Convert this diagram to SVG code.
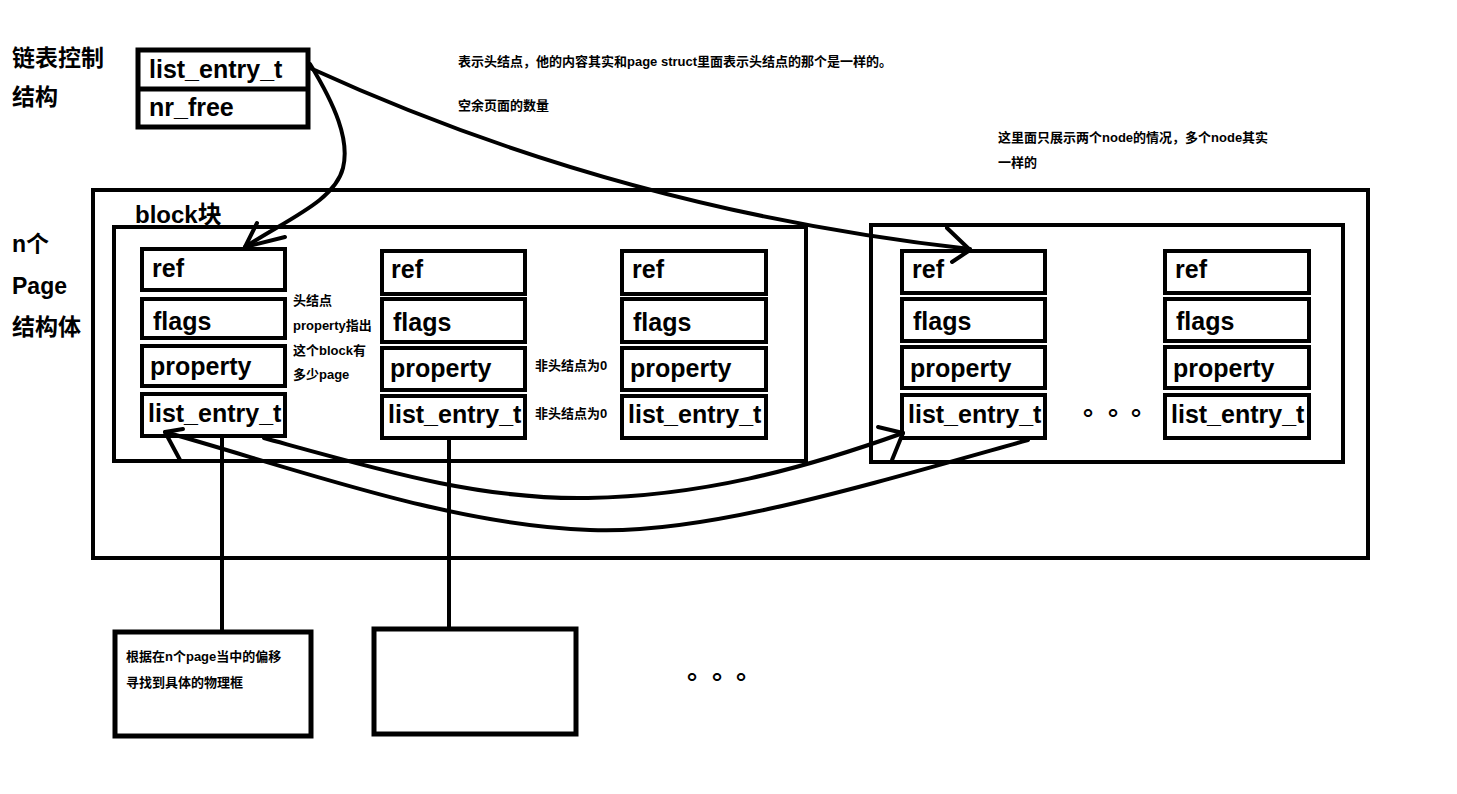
<svg xmlns="http://www.w3.org/2000/svg" width="1457" height="794" viewBox="0 0 1457 794">
<style>
.bg{fill:#fff}
.box{fill:#fff;stroke:#000;stroke-width:4}
.thick{fill:none;stroke:#000;stroke-width:5}
.frame{fill:none;stroke:#000;stroke-width:4}
.ln{fill:none;stroke:#000;stroke-width:4;stroke-linecap:round;stroke-linejoin:round}
.vl{fill:none;stroke:#000;stroke-width:4}
.f{font-family:"Liberation Sans","Noto Sans CJK SC",sans-serif;font-weight:bold;fill:#000}
.big{font-size:25px}
.lbl{font-size:23px}
.sm{font-size:13px}
.dots{font-family:"Noto Sans CJK SC",sans-serif;font-size:26px;font-weight:bold;fill:#000}
</style>
<rect class="bg" x="0" y="0" width="1457" height="794"/>

<g id="labels">
<text class="f lbl" x="12" y="66">链表控制</text>
<text class="f lbl" x="12" y="105">结构</text>
<text class="f lbl" x="12" y="252">n个</text>
<text class="f lbl" x="12" y="294">Page</text>
<text class="f lbl" x="12" y="335">结构体</text>
<text class="f sm" x="458" y="66">表示头结点，他的内容其实和page struct里面表示头结点的那个是一样的。</text>
<text class="f sm" x="458" y="110">空余页面的数量</text>
<text class="f sm" x="998" y="142">这里面只展示两个node的情况，多个node其实</text>
<text class="f sm" x="998" y="167">一样的</text>
</g>

<g id="control">
<rect class="thick" x="138" y="50" width="170" height="77"/>
<line class="thick" x1="138" y1="89" x2="308" y2="89"/>
<text class="f big" x="149" y="78">list_entry_t</text>
<text class="f big" x="149" y="116">nr_free</text>
</g>

<g id="pages">
<rect class="frame" x="93" y="190" width="1275" height="368"/>
<text class="f" font-size="24" x="135" y="223">block块</text>
</g>

<g id="block1">
<rect class="frame" x="114" y="227" width="692" height="234"/>
</g>
<g id="block2">
<rect class="frame" x="871" y="225" width="472" height="237"/>
<text class="dots" x="1083 1108 1131" y="415">。。。</text>
</g>

<g id="node1">
<rect class="box" x="142" y="249" width="143" height="41"/>
<rect class="box" x="142" y="299" width="143" height="39"/>
<rect class="box" x="142" y="346" width="143" height="40"/>
<rect class="box" x="142" y="394" width="143" height="42"/>
<text class="f big" x="152" y="277">ref</text>
<text class="f big" x="153" y="330">flags</text>
<text class="f big" x="150" y="375">property</text>
<text class="f big" x="148" y="422">list_entry_t</text>
<text class="f sm" x="293" y="305">头结点</text>
<text class="f sm" x="293" y="330">property指出</text>
<text class="f sm" x="293" y="355">这个block有</text>
<text class="f sm" x="293" y="379">多少page</text>
</g>

<g id="node2">
<rect class="box" x="382" y="251" width="143" height="43"/>
<rect class="box" x="382" y="299" width="143" height="43"/>
<rect class="box" x="382" y="348" width="143" height="42"/>
<rect class="box" x="382" y="396" width="143" height="42"/>
<text class="f big" x="391" y="278">ref</text>
<text class="f big" x="393" y="331">flags</text>
<text class="f big" x="390" y="377">property</text>
<text class="f big" x="388" y="423">list_entry_t</text>
<text class="f sm" x="535" y="370">非头结点为0</text>
<text class="f sm" x="535" y="418">非头结点为0</text>
</g>

<g id="node3">
<rect class="box" x="622" y="251" width="144" height="43"/>
<rect class="box" x="622" y="299" width="144" height="43"/>
<rect class="box" x="622" y="348" width="144" height="42"/>
<rect class="box" x="622" y="396" width="144" height="42"/>
<text class="f big" x="632" y="278">ref</text>
<text class="f big" x="633" y="331">flags</text>
<text class="f big" x="630" y="377">property</text>
<text class="f big" x="628" y="423">list_entry_t</text>
</g>

<g id="node4">
<rect class="box" x="902" y="251" width="143" height="42"/>
<rect class="box" x="902" y="299" width="143" height="42"/>
<rect class="box" x="902" y="347" width="143" height="41"/>
<rect class="box" x="902" y="395" width="143" height="43"/>
<text class="f big" x="912" y="278">ref</text>
<text class="f big" x="913" y="330">flags</text>
<text class="f big" x="910" y="377">property</text>
<text class="f big" x="908" y="423">list_entry_t</text>
</g>

<g id="node5">
<rect class="box" x="1165" y="251" width="144" height="42"/>
<rect class="box" x="1165" y="299" width="144" height="42"/>
<rect class="box" x="1165" y="347" width="144" height="41"/>
<rect class="box" x="1165" y="395" width="144" height="43"/>
<text class="f big" x="1175" y="278">ref</text>
<text class="f big" x="1176" y="330">flags</text>
<text class="f big" x="1173" y="377">property</text>
<text class="f big" x="1171" y="423">list_entry_t</text>
</g>

<g id="frame1">
<rect class="thick" x="115" y="632" width="196" height="104"/>
<text class="f sm" x="126" y="661">根据在n个page当中的偏移</text>
<text class="f sm" x="126" y="687">寻找到具体的物理框</text>
</g>
<g id="frame2">
<rect class="thick" x="374" y="629" width="202" height="105"/>
</g>
<g id="more">
<text class="dots" x="687 712 736" y="679">。。。</text>
</g>

<g id="connectors">
<path class="ln" d="M310,64 C335,105 350,140 343,168 C335,200 290,218 245,247"/>
<path class="ln" d="M257,223 L245,247 L285,237"/>
<path class="ln" d="M310,68 Q620,210 970,249"/>
<path class="ln" d="M947,228 L970,250 L952,262"/>
<path class="ln" d="M264,438 C380,470 480,500 588,498 C700,496 800,470 903,433"/>
<path class="ln" d="M878,427 L903,433 L892,460"/>
<path class="ln" d="M1028,440 C850,490 700,535 590,530 C450,525 300,470 165,432"/>
<path class="ln" d="M183,429 L165,432 L180,460"/>
<line class="vl" x1="222" y1="438" x2="222" y2="630"/>
<line class="vl" x1="449" y1="440" x2="449" y2="627"/>
</g>
</svg>
